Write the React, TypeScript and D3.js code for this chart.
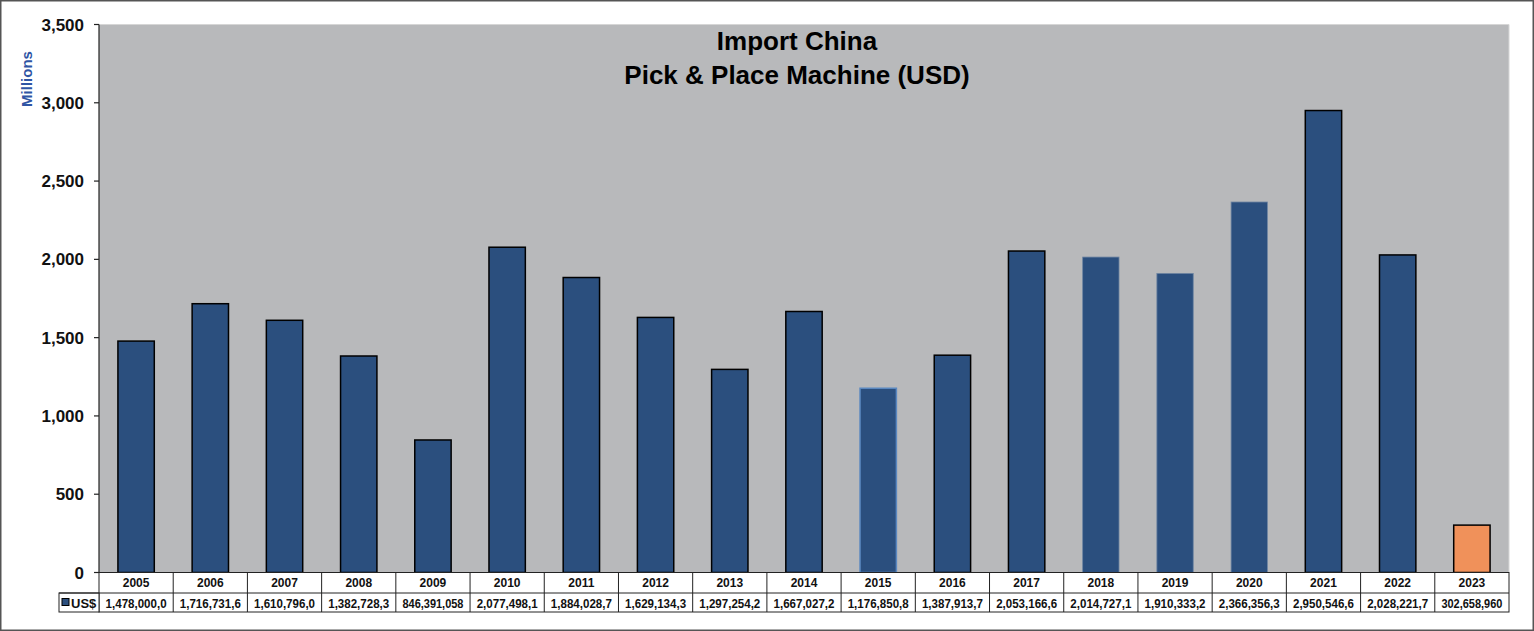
import React from "react";
import * as d3 from "d3";

const years = ["2005","2006","2007","2008","2009","2010","2011","2012","2013","2014","2015","2016","2017","2018","2019","2020","2021","2022","2023"];
const values = [1478.0, 1716.7316, 1610.796, 1382.7283, 846.391058, 2077.4981, 1884.0287, 1629.1343, 1297.2542, 1667.0272, 1176.8508, 1387.9137, 2053.1666, 2014.7271, 1910.3332, 2366.3563, 2950.5466, 2028.2217, 302.65896];
const tableLabels = ["1,478,000,0","1,716,731,6","1,610,796,0","1,382,728,3","846,391,058","2,077,498,1","1,884,028,7","1,629,134,3","1,297,254,2","1,667,027,2","1,176,850,8","1,387,913,7","2,053,166,6","2,014,727,1","1,910,333,2","2,366,356,3","2,950,546,6","2,028,221,7","302,658,960"];
const yTicks = [0, 500, 1000, 1500, 2000, 2500, 3000, 3500];
const titleLines = ["Import China", "Pick & Place Machine (USD)"];
const seriesName = "US$";
const axisTitle = "Millions";

const W = 1534, H = 631;
const plotL = 99, plotR = 1509, plotT = 24.5, plotB = 572.5;
const row1B = 593, row2B = 612, legendL = 59;
const FONT = "'Liberation Sans', Arial, sans-serif";
const BAR = "#2B4F7E";

function strokeFor(i: number) {
  if (years[i] === "2015") return { stroke: "#5A88C0", sw: 1.5 };
  if (["2018", "2019", "2020"].includes(years[i])) return { stroke: "#6F86A3", sw: 0.8 };
  return { stroke: "#000", sw: 1.5 };
}

export default function App() {
  const x = d3.scaleBand<string>().domain(years).range([plotL, plotR]).paddingInner(0.51).paddingOuter(0.255);
  const xc = d3.scaleBand<string>().domain(years).range([plotL, plotR]);
  const y = d3.scaleLinear().domain([0, 3500]).range([plotB, plotT]);
  const fmt = d3.format(",");
  return (
    <svg width={W} height={H} style={{ position: "absolute", left: 0, top: 0 }} fontFamily={FONT}>
      <rect x={0} y={0} width={W} height={H} fill="#fff" />
      <rect x={0.75} y={0.75} width={W - 1.5} height={H - 1.5} fill="none" stroke="#555" strokeWidth={1.5} />
      <rect x={plotL} y={plotT} width={plotR - plotL} height={plotB - plotT} fill="#B8B9BB" />
      <line x1={plotL} x2={plotR} y1={plotT} y2={plotT} stroke="#d6d6d6" strokeWidth={1} />
      <line x1={plotR} x2={plotR} y1={plotT} y2={plotB} stroke="#d6d6d6" strokeWidth={1} />
      {values.map((v, i) => {
        const s = strokeFor(i);
        const isLast = years[i] === "2023";
        return (
          <rect key={years[i]} x={x(years[i])!} y={y(v)} width={x.bandwidth()} height={plotB - y(v)}
            fill={isLast ? "#F0915A" : BAR} stroke={s.stroke} strokeWidth={s.sw} />
        );
      })}
      {/* y axis */}
      <line x1={plotL} x2={plotL} y1={plotT} y2={plotB} stroke="#222" strokeWidth={1.2} />
      {yTicks.map(t => (
        <g key={t}>
          <line x1={plotL - 5} x2={plotL} y1={y(t)} y2={y(t)} stroke="#222" strokeWidth={1.2} />
          <text x={84} y={y(t)} dy="0.36em" textAnchor="end" fontSize={17} fontWeight="bold" fill="#111">{fmt(t)}</text>
        </g>
      ))}
      <text transform={`translate(32,79) rotate(-90)`} textAnchor="middle" fontSize={15} fontWeight="bold" fill="#2F55A4">{axisTitle}</text>
      {/* title */}
      <text x={797} y={50} textAnchor="middle" fontSize={26} fontWeight="bold" fill="#000">{titleLines[0]}</text>
      <text x={797} y={84} textAnchor="middle" fontSize={26} fontWeight="bold" fill="#000">{titleLines[1]}</text>
      {/* data table */}
      <rect x={plotL} y={plotB} width={plotR - plotL} height={row2B - plotB} fill="#fff" stroke="#222" strokeWidth={1} />
      <rect x={legendL} y={row1B} width={plotL - legendL} height={row2B - row1B} fill="#fff" stroke="#222" strokeWidth={1} />
      <line x1={legendL} x2={plotR} y1={row1B} y2={row1B} stroke="#222" strokeWidth={1} />
      {years.map((yr, i) => (
        <g key={yr}>
          {i > 0 && <line x1={xc(yr)!} x2={xc(yr)!} y1={plotB} y2={row2B} stroke="#222" strokeWidth={1} />}
          <text x={xc(yr)! + xc.bandwidth() / 2} y={583} dy="0.36em" textAnchor="middle" fontSize={12} fontWeight="bold" fill="#111">{yr}</text>
          <text x={xc(yr)! + xc.bandwidth() / 2} y={603} dy="0.36em" textAnchor="middle" fontSize={12.5} fontWeight="bold" fill="#111"
            textLength={61} lengthAdjust="spacingAndGlyphs">{tableLabels[i]}</text>
        </g>
      ))}
      <rect x={62} y={598.5} width={7} height={7} fill={BAR} stroke="#000" strokeWidth={1} />
      <text x={71} y={603} dy="0.36em" fontSize={13} fontWeight="bold" fill="#111">{seriesName}</text>
    </svg>
  );
}
